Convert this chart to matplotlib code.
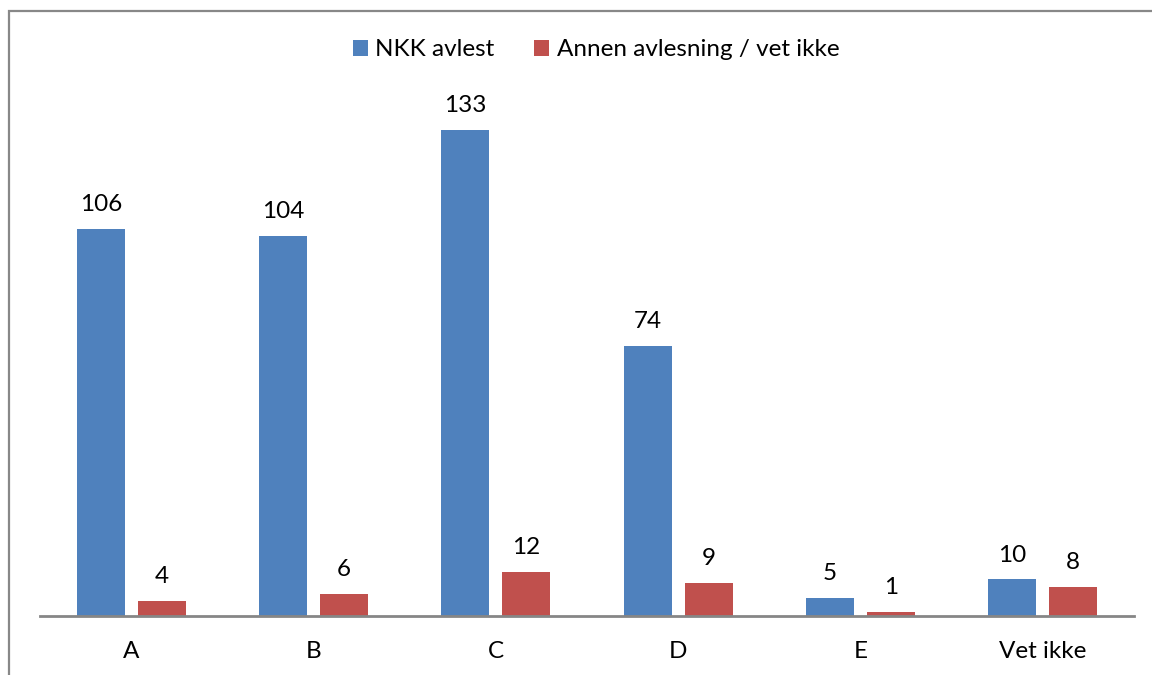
import matplotlib
matplotlib.use("Agg")
import matplotlib.pyplot as plt
from matplotlib.patches import Rectangle
import numpy as np

categories = ["A", "B", "C", "D", "E", "Vet ikke"]
nkk = [106, 104, 133, 74, 5, 10]
annen = [4, 6, 12, 9, 1, 8]
series_names = ["NKK avlest", "Annen avlesning / vet ikke"]
colors = ["#4F81BD", "#C0504D"]

plt.rcParams['font.family'] = ['Lato', 'DejaVu Sans']

W, H = 1152, 675
fig = plt.figure(figsize=(W / 100, H / 100), dpi=100)
ax_left, ax_right = 40 / W, 1134 / W
ax_bottom, ax_top = 1 - 616 / H, 1 - 104 / H
ax = fig.add_axes([ax_left, ax_bottom, ax_right - ax_left, ax_top - ax_bottom])

x = np.arange(len(categories))
bw = 0.263
off = 0.167
b1 = ax.bar(x - off, nkk, bw, color=colors[0], label=series_names[0])
b2 = ax.bar(x + off, annen, bw, color=colors[1], label=series_names[1])

FS = 17.5
for bars, vals in ((b1, nkk), (b2, annen)):
    for rect, v in zip(bars, vals):
        ax.annotate(str(v), (rect.get_x() + rect.get_width() / 2, rect.get_height()),
                    xytext=(0, 10), textcoords="offset points",
                    ha="center", va="bottom", fontsize=FS, color="black")

ax.set_xlim(-0.5, len(categories) - 0.5)
ax.set_ylim(0, 133 * (616 - 104) / (616 - 130))
ax.set_xticks(x)
ax.set_xticklabels(categories, fontsize=FS)
ax.tick_params(axis="x", length=0, pad=18)
ax.set_yticks([])
for s in ("top", "right", "left"):
    ax.spines[s].set_visible(False)
ax.spines["bottom"].set_color("#868686")
ax.spines["bottom"].set_linewidth(2)

fig.legend(handles=[b1, b2], labels=series_names, loc="center",
           bbox_to_anchor=(596 / W, 1 - 50 / H), ncol=2, frameon=False,
           fontsize=FS, handlelength=0.62, handleheight=0.62,
           handletextpad=0.3, columnspacing=1.65)

fig.patches.append(Rectangle((9 / W, -0.1), 1.2, 1.1 - 11 / H + 0.0,
                             transform=fig.transFigure, fill=False,
                             edgecolor="#888888", linewidth=1.6))

fig.savefig("out.png", dpi=100)
